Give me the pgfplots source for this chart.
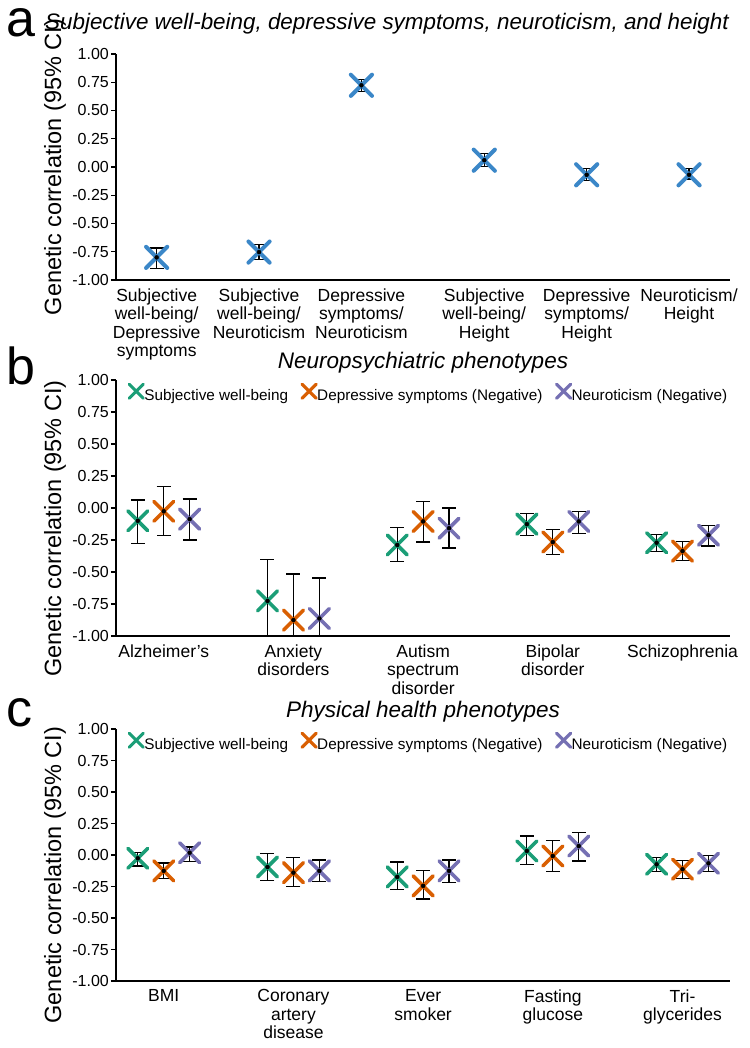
\documentclass[border=0pt]{standalone}
\usepackage{pgfplots}
\usepackage{pgfplotstable}
\pgfplotsset{compat=1.18}
\usepackage{fontspec}
\setmainfont{Liberation Sans}
\definecolor{cblue}{HTML}{3B87C8}
\definecolor{cgreen}{HTML}{1B9E77}
\definecolor{corange}{HTML}{D95F02}
\definecolor{cpurple}{HTML}{7570B3}

% panel a
\pgfplotstableread{
x y lo hi
1 -0.800 -0.895 -0.717
2 -0.753 -0.819 -0.687
3 0.723 0.669 0.777
4.2 0.060 0.006 0.117
5.2 -0.069 -0.120 -0.012
6.2 -0.069 -0.114 -0.015
}\aData
% panel b
\pgfplotstableread{
x y lo hi
0.8 -0.100 -0.279 0.063
1.8 -0.726 -1.000 -0.400
2.8 -0.289 -0.418 -0.155
3.8 -0.126 -0.218 -0.042
4.8 -0.271 -0.337 -0.205
}\bSWB
\pgfplotstableread{
x y lo hi
1 -0.026 -0.218 0.166
2 -0.876 -1.000 -0.516
3 -0.105 -0.266 0.050
4 -0.266 -0.366 -0.171
5 -0.337 -0.408 -0.263
}\bDS
\pgfplotstableread{
x y lo hi
1.2 -0.087 -0.250 0.071
2.2 -0.863 -1.000 -0.547
3.2 -0.158 -0.313 0.000
4.2 -0.105 -0.197 -0.029
5.2 -0.213 -0.297 -0.134
}\bN
% panel c
\pgfplotstableread{
x y lo hi
0.8 -0.026 -0.087 0.018
1.8 -0.095 -0.200 0.010
2.8 -0.174 -0.274 -0.055
3.8 0.032 -0.074 0.150
4.8 -0.074 -0.132 -0.021
}\cSWB
\pgfplotstableread{
x y lo hi
1 -0.126 -0.187 -0.063
2 -0.140 -0.250 -0.021
3 -0.245 -0.350 -0.126
4 -0.008 -0.134 0.118
5 -0.113 -0.187 -0.042
}\cDS
\pgfplotstableread{
x y lo hi
1.2 0.018 -0.053 0.063
2.2 -0.126 -0.210 -0.040
3.2 -0.126 -0.218 -0.040
4.2 0.071 -0.047 0.176
5.2 -0.066 -0.132 -0.003
}\cN

\pgfplotsset{
  base/.style={
    scale only axis, width=614pt, anchor=south west,
    ymin=-1, ymax=1,
    ytick={-1,-0.75,-0.5,-0.25,0,0.25,0.5,0.75,1},
    axis x line=bottom, axis y line=left,
    axis line style={-, line width=1.4pt, black},
    xtick style={draw=none},
    ytick style={line width=1.2pt, black},
    tick align=outside, major tick length=5pt,
    yticklabel style={font=\fontsize{16}{17}\selectfont, inner sep=2pt,
      /pgf/number format/.cd, fixed, fixed zerofill, precision=2, assume math mode=true},
    xticklabel style={font=\fontsize{17.5}{18.5}\selectfont, align=center},
    clip=false,
    ylabel={Genetic correlation (95\% CI)},
  },
  pts/.style={only marks, mark=x, color=#1, mark size=14pt,
    mark options={line width=3.6pt, line cap=round}},
  ebar/.style={only marks, mark=none, forget plot,
    error bars/.cd, y dir=both, y explicit, error mark=-,
    error bar style={draw=black, line width=1.2pt},
    error mark options={draw=black, line width=1.2pt, mark size=7pt, rotate=90}},
  leg/.style={
    legend style={draw=none, fill=none, inner sep=0pt,
      at={(axis description cs:0,1)}, anchor=north west, xshift=13pt, yshift=-4pt,
      font=\fontsize{15.3}{16.5}\selectfont,
      nodes={inner sep=1pt},
      /tikz/every even column/.append style={column sep=13pt}},
    legend columns=-1,
    legend image code/.code={\draw[##1, only marks, mark size=10pt,
      mark options={line width=3.1pt, line cap=round}] plot coordinates {(8.5pt,4.2pt)};},
  },
}
\tikzset{letter/.style={anchor=base west, inner sep=0pt, text height=0.62em, text depth=0pt,
    font=\fontsize{52}{52}\selectfont}}

\begin{document}
\begin{tikzpicture}
\useasboundingbox (0pt,0pt) rectangle (749pt,1048pt);

% ---------------- panel a
\node[letter] at (6pt,1011pt) {a};
\node[anchor=base west, inner sep=0pt, font=\fontsize{22.4}{24}\selectfont\itshape] at (45pt,1018pt)
  {Subjective well-being, depressive symptoms, neuroticism, and height};
\begin{axis}[base, at={(116pt,768pt)}, height=226pt,
  xmin=0.603, xmax=6.60,
  xtick={1,2,3,4.2,5.2,6.2},
  xticklabels={{Subjective\\well-being/\\Depressive\\symptoms},
               {Subjective\\well-being/\\Neuroticism},
               {Depressive\\symptoms/\\Neuroticism},
               {Subjective\\well-being/\\Height},
               {Depressive\\symptoms/\\Height},
               {Neuroticism/\\Height}},
  ylabel style={at={(axis description cs:-0.0993,0.5)}, anchor=center, font=\fontsize{23.5}{24}\selectfont},
]
\addplot[only marks, mark=x, color=cblue, mark size=15pt, mark options={line width=4pt, line cap=round}] table[x=x,y=y]{\aData};
\addplot[ebar] table[x=x, y=y, y error plus expr=\thisrow{hi}-\thisrow{y}, y error minus expr=\thisrow{y}-\thisrow{lo}]{\aData};
\end{axis}

% ---------------- panel b
\node[letter] at (6pt,663pt) {b};
\node[anchor=center, inner sep=0pt, font=\fontsize{22.5}{24}\selectfont\itshape] at (423pt,685pt)
  {Neuropsychiatric phenotypes};
\begin{axis}[base, leg, at={(116pt,412pt)}, height=256pt,
  xmin=0.632, xmax=5.366,
  xtick={1,2,3,4,5},
  xticklabels={{Alzheimer's},{Anxiety\\disorders},{Autism\\spectrum\\disorder},{Bipolar\\disorder},{Schizophrenia}},
  ylabel style={at={(axis description cs:-0.0993,0.42)}, anchor=center, font=\fontsize{23.5}{24}\selectfont},
]
\addplot[pts=cgreen] table[x=x,y=y]{\bSWB};
\addlegendentry{Subjective well-being}
\addplot[pts=corange] table[x=x,y=y]{\bDS};
\addlegendentry{Depressive symptoms (Negative)}
\addplot[pts=cpurple] table[x=x,y=y]{\bN};
\addlegendentry{Neuroticism (Negative)}
\addplot[ebar] table[x=x, y=y, y error plus expr=\thisrow{hi}-\thisrow{y}, y error minus expr=\thisrow{y}-\thisrow{lo}]{\bSWB};
\addplot[ebar] table[x=x, y=y, y error plus expr=\thisrow{hi}-\thisrow{y}, y error minus expr=\thisrow{y}-\thisrow{lo}]{\bDS};
\addplot[ebar] table[x=x, y=y, y error plus expr=\thisrow{hi}-\thisrow{y}, y error minus expr=\thisrow{y}-\thisrow{lo}]{\bN};
\end{axis}

% ---------------- panel c
\node[letter] at (6pt,321pt) {c};
\node[anchor=center, inner sep=0pt, font=\fontsize{22.5}{24}\selectfont\itshape] at (423pt,336pt)
  {Physical health phenotypes};
\begin{axis}[base, leg, at={(116pt,67pt)}, height=252pt,
  xmin=0.632, xmax=5.366,
  xtick={1,2,3,4,5},
  xticklabels={{BMI},{Coronary\\artery\\disease},{Ever\\smoker},{Fasting\\glucose},{Tri-\\glycerides}},
  ylabel style={at={(axis description cs:-0.0993,0.42)}, anchor=center, font=\fontsize{23.5}{24}\selectfont},
]
\addplot[pts=cgreen] table[x=x,y=y]{\cSWB};
\addlegendentry{Subjective well-being}
\addplot[pts=corange] table[x=x,y=y]{\cDS};
\addlegendentry{Depressive symptoms (Negative)}
\addplot[pts=cpurple] table[x=x,y=y]{\cN};
\addlegendentry{Neuroticism (Negative)}
\addplot[ebar] table[x=x, y=y, y error plus expr=\thisrow{hi}-\thisrow{y}, y error minus expr=\thisrow{y}-\thisrow{lo}]{\cSWB};
\addplot[ebar] table[x=x, y=y, y error plus expr=\thisrow{hi}-\thisrow{y}, y error minus expr=\thisrow{y}-\thisrow{lo}]{\cDS};
\addplot[ebar] table[x=x, y=y, y error plus expr=\thisrow{hi}-\thisrow{y}, y error minus expr=\thisrow{y}-\thisrow{lo}]{\cN};
\end{axis}
\end{tikzpicture}
\end{document}
